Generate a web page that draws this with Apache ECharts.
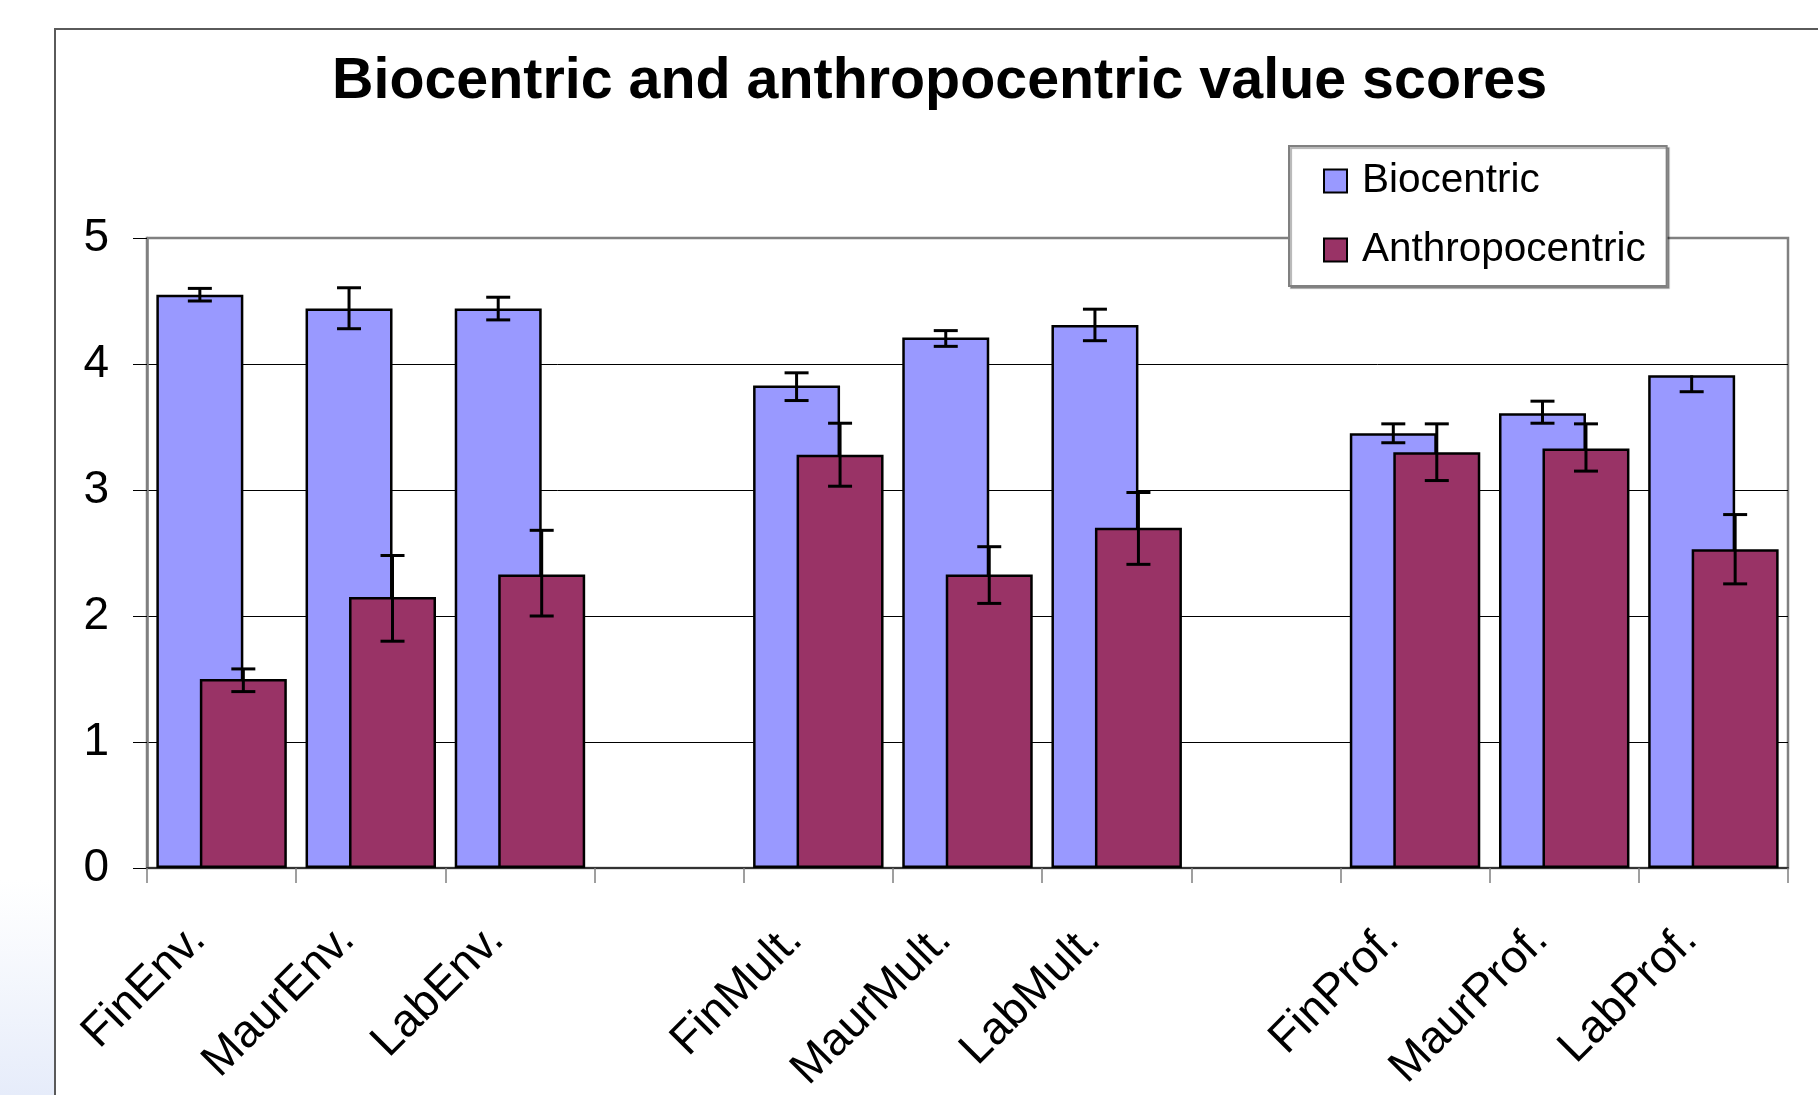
<!DOCTYPE html>
<html>
<head>
<meta charset="utf-8">
<title>Biocentric and anthropocentric value scores</title>
<script src="https://cdn.jsdelivr.net/npm/echarts@6/dist/echarts.min.js"></script>
<style>
  html, body { margin: 0; padding: 0; background: #fff; }
  #myChart { width: 1818px; height: 1095px; }
</style>
</head>
<body>
<div id="myChart"></div>
<script>
// categories (two empty slots separate the three groups)
const categories = ["FinEnv.", "MaurEnv.", "LabEnv.", "", "FinMult.", "MaurMult.", "LabMult.", "", "FinProf.", "MaurProf.", "LabProf."];
const yTicks = [0, 1, 2, 3, 4, 5];

// mean scores
const biocentric = [4.55, 4.44, 4.44, null, 3.83, 4.21, 4.31, null, 3.45, 3.61, 3.91];
const anthropocentric = [1.50, 2.15, 2.33, null, 3.28, 2.33, 2.70, null, 3.30, 3.33, 2.53];

// error bars (up / down)
const bioErrUp = [0.05, 0.165, 0.09, null, 0.10, 0.055, 0.125, null, 0.075, 0.095, 0];
const bioErrDown = [0.05, 0.16, 0.09, null, 0.12, 0.07, 0.125, null, 0.075, 0.08, 0.13];
const anthErrUp = [0.08, 0.33, 0.35, null, 0.25, 0.22, 0.28, null, 0.225, 0.195, 0.275];
const anthErrDown = [0.10, 0.35, 0.33, null, 0.25, 0.23, 0.29, null, 0.225, 0.18, 0.275];

const BAR_RATIO = 0.583; // bar width / category width
const FONT = "'Liberation Sans', Arial, sans-serif";

function errData(values, up, down) {
  const out = [];
  values.forEach(function (v, i) {
    if (v != null) out.push([i, v, up[i], down[i]]);
  });
  return out;
}

// draws one error bar, shifted onto its own bar (sign -1 = left bar, +1 = right bar)
function errRender(sign) {
  return function (params, api) {
    const i = api.value(0);
    const v = api.value(1);
    const up = api.value(2);
    const down = api.value(3);
    const band = api.size([1, 0])[0];
    const dx = sign * band * BAR_RATIO / 4;
    const top = api.coord([i, v + up]);
    const bot = api.coord([i, v - down]);
    const x = top[0] + dx;
    const cap = 12;
    const style = { stroke: "#000", lineWidth: 3 };
    const children = [
      { type: "line", shape: { x1: x, y1: top[1], x2: x, y2: bot[1] }, style: style }
    ];
    if (up > 0) children.push({ type: "line", shape: { x1: x - cap, y1: top[1], x2: x + cap, y2: top[1] }, style: style });
    if (down > 0) children.push({ type: "line", shape: { x1: x - cap, y1: bot[1], x2: x + cap, y2: bot[1] }, style: style });
    return { type: "group", children: children };
  };
}

let myChart = echarts.init(document.getElementById("myChart"));
myChart.setOption({
  backgroundColor: "#fff",
  animation: false,
  textStyle: { fontFamily: FONT },
  title: {
    text: "Biocentric and anthropocentric value scores",
    left: 327,
    top: 49,
    textStyle: { fontFamily: FONT, fontSize: 57.4, fontWeight: "bold", color: "#000", lineHeight: 57 }
  },
  graphic: [
    // chart area frame
    {
      type: "rect",
      z: 0,
      shape: { x: 55, y: 29, width: 1800, height: 1200 },
      style: { fill: null, stroke: "#5a5a5a", lineWidth: 2 }
    },
    // faint slide background showing at bottom left
    {
      type: "rect",
      z: 0,
      shape: { x: 0, y: 880, width: 54, height: 215 },
      style: {
        fill: new echarts.graphic.LinearGradient(0, 0, 0, 1, [
          { offset: 0, color: "rgba(232,238,250,0)" },
          { offset: 1, color: "rgba(230,236,250,1)" }
        ])
      }
    }
  ],
  legend: {
    orient: "vertical",
    left: 1289,
    top: 146,
    padding: [12, 21, 13, 34],
    itemGap: 23,
    itemWidth: 23,
    itemHeight: 23,
    icon: "rect",
    backgroundColor: "#fff",
    borderColor: "#808080",
    borderWidth: 2,
    shadowColor: "rgba(0,0,0,0.3)",
    shadowOffsetX: 2,
    shadowOffsetY: 2,
    shadowBlur: 1,
    textStyle: { fontFamily: FONT, fontSize: 40.5, lineHeight: 46, color: "#000", padding: [0, 0, 0, 10] },
    data: ["Biocentric", "Anthropocentric"]
  },
  grid: {
    left: 147,
    right: 30,
    top: 238,
    bottom: 227,
    outerBoundsMode: "none",
    show: true,
    backgroundColor: "transparent",
    borderColor: "#808080",
    borderWidth: 2.5
  },
  xAxis: {
    type: "category",
    data: categories,
    boundaryGap: true,
    axisLine: { lineStyle: { color: "#333", width: 2 } },
    axisTick: { show: true, interval: 0, length: 15, lineStyle: { color: "#808080", width: 1.5 } },
    axisLabel: {
      interval: 0,
      rotate: 45,
      margin: 88,
      verticalAlign: "bottom",
      lineHeight: 66,
      fontFamily: FONT,
      fontSize: 46,
      color: "#000"
    },
    splitLine: { show: false }
  },
  yAxis: {
    type: "value",
    min: yTicks[0],
    max: yTicks[yTicks.length - 1],
    interval: 1,
    axisLine: { show: true, lineStyle: { color: "#808080", width: 2.5 } },
    axisTick: { show: true, length: 14, lineStyle: { color: "#000", width: 1 } },
    axisLabel: { margin: 38, fontFamily: FONT, fontSize: 46, color: "#000" },
    splitLine: { show: true, showMinLine: false, showMaxLine: false, lineStyle: { color: "#000", width: 1 } }
  },
  series: [
    {
      name: "Biocentric",
      type: "bar",
      data: biocentric,
      barWidth: (BAR_RATIO * 100) + "%",
      barGap: "-50%",
      itemStyle: { color: "#9999ff", borderColor: "#000", borderWidth: 2.5 }
    },
    {
      name: "Anthropocentric",
      type: "bar",
      data: anthropocentric,
      barWidth: (BAR_RATIO * 100) + "%",
      barGap: "-50%",
      itemStyle: { color: "#993366", borderColor: "#000", borderWidth: 2.5 }
    },
    {
      name: "bioErr",
      type: "custom",
      z: 5,
      renderItem: errRender(-1),
      encode: { x: 0, y: 1 },
      data: errData(biocentric, bioErrUp, bioErrDown),
      silent: true
    },
    {
      name: "anthErr",
      type: "custom",
      z: 5,
      renderItem: errRender(1),
      encode: { x: 0, y: 1 },
      data: errData(anthropocentric, anthErrUp, anthErrDown),
      silent: true
    }
  ]
});
</script>
</body>
</html>
